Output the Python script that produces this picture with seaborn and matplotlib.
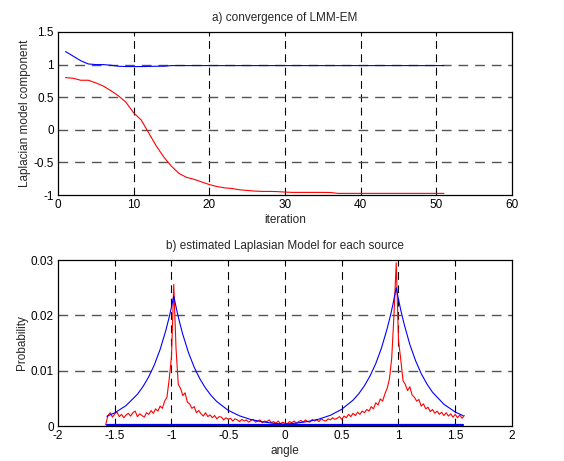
# Two panel figure: LMM-EM convergence and the estimated Laplacian models

import numpy as np
import pandas as pd
import matplotlib
matplotlib.use('Agg')
import matplotlib.pyplot as plt
from matplotlib.ticker import FuncFormatter
import seaborn as sns

sns.set_theme(style='white')
plt.rcParams['font.family'] = ['Liberation Sans', 'DejaVu Sans']
plt.rcParams['font.size'] = 8.5
plt.rcParams['axes.unicode_minus'] = False

# ---- data: panel a) ----
iteration = list(range(1, 52))
comp_blue = [1.20, 1.13, 1.06, 1.01, 1.00, 1.00, 0.99, 0.975, 0.97, 0.97,
             0.97, 0.972, 0.975, 0.975, 0.985, 0.985, 0.985, 0.985, 0.985, 0.985,
             0.985, 0.985, 0.985, 0.985, 0.985, 0.985, 0.985, 0.985, 0.985, 0.985,
             0.985, 0.985, 0.985, 0.985, 0.985, 0.985, 0.985, 0.985, 0.985, 0.985,
             0.985, 0.985, 0.985, 0.985, 0.985, 0.985, 0.985, 0.985, 0.985, 0.985,
             0.985]
comp_red = [0.80, 0.79, 0.76, 0.76, 0.72, 0.67, 0.60, 0.52, 0.42, 0.26,
            0.15, -0.05, -0.25, -0.42, -0.56, -0.67, -0.73, -0.76, -0.80, -0.84,
            -0.87, -0.89, -0.90, -0.92, -0.93, -0.94, -0.945, -0.945, -0.948, -0.955,
            -0.96, -0.96, -0.96, -0.96, -0.96, -0.962, -0.975, -0.975, -0.975, -0.975,
            -0.975, -0.975, -0.975, -0.975, -0.975, -0.975, -0.975, -0.975, -0.975, -0.975,
            -0.975]

# ---- data: panel b) ----
# histogram of angles (bin centres every 0.02 from -1.58 to 1.58)
hist_angle = np.round(np.linspace(-1.58, 1.58, 159), 2)
hist_prob = [
    0.0002, 0.0019, 0.0024, 0.0016, 0.0022, 0.0025, 0.0017, 0.0021, 0.0015, 0.0020,
    0.0023, 0.0018, 0.0024, 0.0027, 0.0017, 0.0022, 0.0019, 0.0016, 0.0024, 0.0021,
    0.0028, 0.0023, 0.0031, 0.0027, 0.0036, 0.0032, 0.0045, 0.0052, 0.0085, 0.0125,
    0.0256, 0.0140, 0.0075, 0.0068, 0.0055, 0.0060, 0.0043, 0.0040, 0.0032, 0.0035,
    0.0024, 0.0028, 0.0022, 0.0018, 0.0024, 0.0017, 0.0020, 0.0015, 0.0019, 0.0013,
    0.0017, 0.0016, 0.0011, 0.0015, 0.0012, 0.0014, 0.0009, 0.0013, 0.0011, 0.0008,
    0.0012, 0.0009, 0.0011, 0.0007, 0.0010, 0.0012, 0.0007, 0.0009, 0.0011, 0.0006,
    0.0009, 0.0008, 0.0011, 0.0006, 0.0008, 0.0005, 0.0009, 0.0004, 0.0007, 0.0005,
    0.0004, 0.0008, 0.0006, 0.0009, 0.0005, 0.0008, 0.0010, 0.0007, 0.0011, 0.0008,
    0.0007, 0.0012, 0.0009, 0.0011, 0.0008, 0.0013, 0.0010, 0.0009, 0.0013, 0.0011,
    0.0015, 0.0012, 0.0014, 0.0017, 0.0012, 0.0018, 0.0015, 0.0021, 0.0017, 0.0023,
    0.0019, 0.0025, 0.0021, 0.0027, 0.0024, 0.0030, 0.0027, 0.0035, 0.0031, 0.0042,
    0.0038, 0.0049, 0.0045, 0.0058, 0.0068, 0.0085, 0.0122, 0.0200, 0.0295, 0.0155,
    0.0120, 0.0082, 0.0075, 0.0064, 0.0071, 0.0056, 0.0052, 0.0045, 0.0048, 0.0036,
    0.0040, 0.0031, 0.0034, 0.0026, 0.0030, 0.0023, 0.0027, 0.0021, 0.0025, 0.0019,
    0.0024, 0.0018, 0.0022, 0.0016, 0.0021, 0.0015, 0.0020, 0.0014, 0.0019,
]

# fitted Laplacian model
model_angle = [-1.57, -1.5, -1.4, -1.3, -1.25, -1.2, -1.15, -1.1, -1.05, -1.02,
               -1.0, -0.98, -0.95, -0.93, -0.9, -0.85, -0.8, -0.75, -0.7, -0.65,
               -0.6, -0.5, -0.4, -0.3, -0.2, -0.1, 0.0, 0.1, 0.2, 0.3,
               0.4, 0.5, 0.6, 0.65, 0.7, 0.75, 0.8, 0.85, 0.9, 0.93,
               0.95, 0.98, 1.0, 1.02, 1.05, 1.1, 1.15, 1.2, 1.25, 1.3,
               1.4, 1.5, 1.57]
model_prob = [0.00175, 0.00238, 0.00370, 0.00574, 0.00716, 0.00892, 0.0111, 0.01385, 0.01727, 0.0197,
              0.02152, 0.0235, 0.02059, 0.01886, 0.01653, 0.01325, 0.01063, 0.00853, 0.00685, 0.00549,
              0.00440, 0.00283, 0.00183, 0.00117, 0.00076, 0.00049, 0.00033, 0.00052, 0.00081, 0.00125,
              0.00194, 0.00302, 0.00468, 0.00584, 0.00728, 0.00908, 0.0113, 0.0141, 0.0176, 0.02005,
              0.0219, 0.0250, 0.0229, 0.02095, 0.0184, 0.01473, 0.01183, 0.00948, 0.00761, 0.0061,
              0.00393, 0.00253, 0.00186]

floor_angle = [-1.57, 1.57]
floor_prob = [0.0001, 0.0001]

df_a = pd.DataFrame({'iteration': iteration, 'blue': comp_blue, 'red': comp_red})
df_hist = pd.DataFrame({'angle': hist_angle, 'prob': hist_prob})
df_model = pd.DataFrame({'angle': model_angle, 'prob': model_prob})


def matlab_grid(ax, xs, ys):
    for x in xs:
        ax.axvline(x, color='black', lw=0.8, ls=(0, (7, 5)), zorder=1)
    for y in ys:
        ax.axhline(y, color='#555555', lw=1.0, ls=(0, (7, 5)), zorder=1)


def style_axes(ax):
    for s in ax.spines.values():
        s.set_color('black')
        s.set_linewidth(0.9)
    ax.tick_params(direction='in', length=3, width=0.7, colors='black',
                   labelsize=8.5, pad=3, top=True, right=True,
                   bottom=True, left=True)
    ax.xaxis.set_major_formatter(FuncFormatter(lambda v, p: '{:g}'.format(round(v, 4))))
    ax.yaxis.set_major_formatter(FuncFormatter(lambda v, p: '{:g}'.format(round(v, 4))))


fig = plt.figure(figsize=(5.64, 4.61), dpi=100)
ax1 = fig.add_axes([0.1028, 0.577, 0.805, 0.3536])
ax2 = fig.add_axes([0.1028, 0.0759, 0.805, 0.360])

# panel a)
matlab_grid(ax1, [10, 20, 30, 40, 50], [-0.5, 0, 0.5, 1])
sns.lineplot(data=df_a, x='iteration', y='blue', color='#0000ff', lw=0.8, ax=ax1, zorder=3)
sns.lineplot(data=df_a, x='iteration', y='red', color='#ff0000', lw=0.8, ax=ax1, zorder=3)
ax1.set_xlim(0, 60)
ax1.set_ylim(-1, 1.5)
ax1.set_xticks(range(0, 61, 10))
ax1.set_yticks([-1, -0.5, 0, 0.5, 1, 1.5])
ax1.set_xlabel('iteration', fontsize=8.5, labelpad=2)
ax1.set_ylabel('Laplacian model component', fontsize=8.5, labelpad=2)
ax1.set_title('a) convergence of LMM-EM', fontsize=8.5, pad=8)
style_axes(ax1)

# panel b)
matlab_grid(ax2, [-1.5, -1, -0.5, 0, 0.5, 1, 1.5], [0.01, 0.02])
sns.lineplot(data=df_hist, x='angle', y='prob', color='#ff0000', lw=0.8, ax=ax2,
             estimator=None, zorder=3)
sns.lineplot(data=df_model, x='angle', y='prob', color='#0000ff', lw=0.8, ax=ax2,
             estimator=None, zorder=3)
sns.lineplot(x=floor_angle, y=floor_prob, color='#0000ff', lw=1.6, ax=ax2, zorder=3)
ax2.set_xlim(-2, 2)
ax2.set_ylim(0, 0.03)
ax2.set_xticks([-2, -1.5, -1, -0.5, 0, 0.5, 1, 1.5, 2])
ax2.set_yticks([0, 0.01, 0.02, 0.03])
ax2.set_xlabel('angle', fontsize=8.5, labelpad=2)
ax2.set_ylabel('Probability', fontsize=8.5, labelpad=2)
ax2.set_title('b) estimated Laplasian Model for each source', fontsize=8.5, pad=8)
style_axes(ax2)

plt.savefig('out.png', dpi=100)
